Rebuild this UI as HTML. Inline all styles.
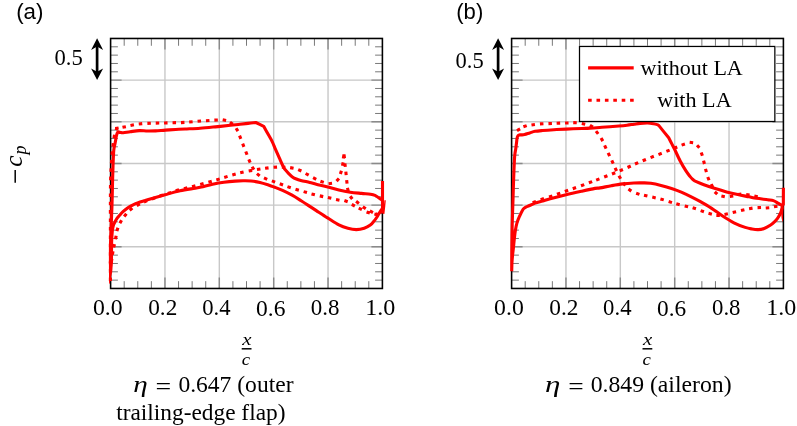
<!DOCTYPE html>
<html><head><meta charset="utf-8"><title>Pressure distributions</title>
<style>
html,body{margin:0;padding:0;background:#fff;}
body{width:797px;height:426px;overflow:hidden;}
svg{display:block;will-change:transform;}
text{fill:#000;}
.s{font-family:"Liberation Serif",serif;}
.i{font-family:"Liberation Serif",serif;font-style:italic;}
.fi{font-family:"Liberation Serif",serif;font-size:16.8px;font-style:italic;}
.h{font-family:"Liberation Sans",sans-serif;}
</style></head><body>
<svg width="797" height="426" viewBox="0 0 797 426">
<rect width="797" height="426" fill="#fff"/>
<!-- plot a -->
<path d="M164.96 38.47V288.47M219.32 38.47V288.47M273.68 38.47V288.47M328.04 38.47V288.47" stroke="#c8c8c8" stroke-width="1.4" fill="none"/>
<path d="M110.60 80.14H382.40M110.60 121.80H382.40M110.60 163.47H382.40M110.60 205.14H382.40M110.60 246.81H382.40" stroke="#c8c8c8" stroke-width="1.4" fill="none"/>
<path d="M124.19 38.47v7.3M124.19 288.47v-7.3M137.78 38.47v7.3M137.78 288.47v-7.3M151.37 38.47v7.3M151.37 288.47v-7.3M178.55 38.47v7.3M178.55 288.47v-7.3M192.14 38.47v7.3M192.14 288.47v-7.3M205.73 38.47v7.3M205.73 288.47v-7.3M232.91 38.47v7.3M232.91 288.47v-7.3M246.50 38.47v7.3M246.50 288.47v-7.3M260.09 38.47v7.3M260.09 288.47v-7.3M287.27 38.47v7.3M287.27 288.47v-7.3M300.86 38.47v7.3M300.86 288.47v-7.3M314.45 38.47v7.3M314.45 288.47v-7.3M341.63 38.47v7.3M341.63 288.47v-7.3M355.22 38.47v7.3M355.22 288.47v-7.3M368.81 38.47v7.3M368.81 288.47v-7.3M110.60 46.80h7.3M382.40 46.80h-7.3M110.60 55.14h7.3M382.40 55.14h-7.3M110.60 63.47h7.3M382.40 63.47h-7.3M110.60 71.80h7.3M382.40 71.80h-7.3M110.60 88.47h7.3M382.40 88.47h-7.3M110.60 96.80h7.3M382.40 96.80h-7.3M110.60 105.14h7.3M382.40 105.14h-7.3M110.60 113.47h7.3M382.40 113.47h-7.3M110.60 130.14h7.3M382.40 130.14h-7.3M110.60 138.47h7.3M382.40 138.47h-7.3M110.60 146.80h7.3M382.40 146.80h-7.3M110.60 155.14h7.3M382.40 155.14h-7.3M110.60 171.80h7.3M382.40 171.80h-7.3M110.60 180.14h7.3M382.40 180.14h-7.3M110.60 188.47h7.3M382.40 188.47h-7.3M110.60 196.80h7.3M382.40 196.80h-7.3M110.60 213.47h7.3M382.40 213.47h-7.3M110.60 221.80h7.3M382.40 221.80h-7.3M110.60 230.14h7.3M382.40 230.14h-7.3M110.60 238.47h7.3M382.40 238.47h-7.3M110.60 255.14h7.3M382.40 255.14h-7.3M110.60 263.47h7.3M382.40 263.47h-7.3M110.60 271.81h7.3M382.40 271.81h-7.3M110.60 280.14h7.3M382.40 280.14h-7.3" stroke="#6a6a6a" stroke-width="0.9" fill="none"/>
<path d="M164.96 38.47v11.0M164.96 288.47v-11.0M219.32 38.47v11.0M219.32 288.47v-11.0M273.68 38.47v11.0M273.68 288.47v-11.0M328.04 38.47v11.0M328.04 288.47v-11.0M110.60 80.14h11.0M382.40 80.14h-11.0M110.60 121.80h11.0M382.40 121.80h-11.0M110.60 163.47h11.0M382.40 163.47h-11.0M110.60 205.14h11.0M382.40 205.14h-11.0M110.60 246.81h11.0M382.40 246.81h-11.0" stroke="#8a8a8a" stroke-width="1.4" fill="none"/>
<rect x="110.60" y="38.47" width="271.80" height="250.00" fill="none" stroke="#000" stroke-width="1.58"/>
<g>
<path d="M110.40 281.00C110.40 272.50 110.40 243.50 110.40 230.00C110.40 216.50 110.37 208.33 110.40 200.00C110.43 191.67 110.45 185.83 110.60 180.00C110.75 174.17 110.98 170.00 111.30 165.00C111.62 160.00 112.05 154.50 112.50 150.00C112.95 145.50 113.55 141.00 114.00 138.00C114.45 135.00 114.72 133.63 115.20 132.00C115.68 130.37 116.62 128.83 116.90 128.20" stroke="#ff0000" stroke-width="3.1" fill="none" stroke-dasharray="3.5 4.9"/>
<path d="M115.17 128.48L118.63 127.92M122.48 127.35L125.92 126.65M130.48 125.44L133.92 124.76M138.76 123.99L142.24 123.61M147.35 123.37L150.85 123.23M155.75 123.14L159.25 123.06M164.05 122.94L167.55 122.86M172.55 122.74L176.05 122.66M180.95 122.58L184.45 122.42M189.16 122.05L192.64 121.75M197.56 121.24L201.04 120.96M205.95 120.70L209.45 120.50M214.35 120.15L217.85 120.05M222.68 119.75L226.12 120.45M230.01 122.14L232.79 124.26M236.07 128.22L237.93 131.18M239.54 135.68L240.86 138.92M242.66 143.57L243.94 146.83M245.76 151.47L247.04 154.73M248.80 159.40L250.20 162.60M252.06 166.73L253.94 169.67M256.95 173.64L259.65 175.86M264.00 177.89L267.20 179.31M271.86 180.90L275.14 182.10M279.76 183.80L283.04 185.00M287.44 186.63L290.76 187.77M295.52 189.29L298.88 190.31M303.62 191.62L306.98 192.58M311.50 193.97L314.90 194.83M319.79 195.88L323.21 196.62M327.89 197.57L331.31 198.33M336.03 199.57L339.47 200.23M344.40 200.58L347.70 201.72M351.76 204.46L354.84 206.14M358.72 208.14L361.88 209.66M366.55 211.92L369.85 213.08M374.40 214.07L377.80 214.93M111.35 262.23L111.85 258.77M112.41 254.63L112.99 251.17M113.75 247.52L114.45 244.08M115.45 239.22L116.15 235.78M116.88 231.12L117.92 227.78M119.86 223.28L121.54 220.22M124.19 216.45L126.41 213.75M129.63 210.29L132.37 208.11M136.76 205.53L139.84 203.87M143.98 201.97L147.22 200.63M151.86 199.00L155.14 197.80M159.75 196.07L163.05 194.93M167.84 193.44L171.16 192.36M175.72 190.79L179.08 189.81M183.90 188.63L187.30 187.77M192.00 186.63L195.40 185.77M200.21 184.51L203.59 183.59M208.42 182.19L211.78 181.21M216.33 179.91L219.67 178.89M224.23 177.41L227.57 176.39M232.32 174.97L235.68 174.03M240.20 172.80L243.60 172.00M248.68 171.02L252.12 170.38M256.97 169.57L260.43 169.03M265.06 168.32L268.54 167.88M273.55 167.29L277.05 167.11M281.85 167.12L285.35 167.28M290.13 167.62L293.57 168.28M298.19 169.67L301.41 171.03M305.62 173.51L308.68 175.19M313.09 177.72L316.21 179.28M320.43 181.31L323.77 182.39M328.56 183.78L332.04 183.32M336.55 181.07L338.95 178.53M340.37 174.02L341.43 170.68M342.41 165.76L343.19 162.34M344.91 163.36L345.29 166.84M345.82 171.66L346.18 175.14M346.65 180.11L347.05 183.59M347.38 187.81L348.32 191.19M350.20 196.25L352.30 199.05M356.11 201.33L358.89 203.47M362.85 206.73L365.75 208.67M369.85 210.89L372.95 212.51M375.72 213.75L378.88 215.25" stroke="#ff0000" stroke-width="3.1" fill="none"/>
<path d="M343.30 158.60L344.00 154.40L344.50 158.20" stroke="#ff0000" stroke-width="3.1" fill="none" stroke-linejoin="miter"/>
<path d="M110.45 263.00C110.46 260.00 110.38 251.33 110.50 245.00C110.62 238.67 110.95 231.67 111.20 225.00C111.45 218.33 111.77 212.50 112.00 205.00C112.23 197.50 112.42 186.92 112.60 180.00C112.78 173.08 112.90 168.50 113.10 163.50C113.30 158.50 113.47 153.37 113.80 150.00C114.13 146.63 114.67 145.63 115.10 143.30C115.53 140.97 116.03 137.72 116.40 136.00C116.77 134.28 116.98 133.70 117.30 133.00C117.62 132.30 118.13 132.00 118.30 131.80C118.67 131.92 119.68 132.35 120.50 132.50C121.32 132.65 121.58 132.83 123.20 132.70C124.82 132.57 127.52 132.05 130.20 131.70C132.88 131.35 136.43 130.72 139.30 130.60C142.17 130.48 144.70 130.96 147.40 131.00C150.10 131.04 152.48 131.00 155.50 130.85C158.52 130.70 162.15 130.32 165.50 130.10C168.85 129.88 172.35 129.68 175.60 129.50C178.85 129.32 180.92 129.22 185.00 129.00C189.08 128.78 195.05 128.56 200.10 128.20C205.15 127.84 210.25 127.33 215.30 126.85C220.35 126.37 226.28 125.72 230.40 125.30C234.52 124.88 237.07 124.62 240.00 124.30C242.93 123.98 245.37 123.70 248.00 123.40C250.63 123.10 254.50 122.65 255.80 122.50C257.12 123.13 262.38 125.67 263.70 126.30C264.47 127.68 266.88 132.05 268.30 134.60C269.72 137.15 271.02 139.18 272.20 141.60C273.38 144.02 274.20 146.33 275.40 149.10C276.60 151.87 278.30 155.72 279.40 158.20C280.50 160.68 281.13 162.20 282.00 164.00C282.87 165.80 284.17 168.17 284.60 169.00C285.25 169.72 287.20 171.98 288.50 173.30C289.80 174.62 291.08 175.95 292.40 176.90C293.72 177.85 295.00 178.42 296.40 179.00C297.80 179.58 298.58 179.82 300.80 180.40C303.02 180.98 307.12 181.87 309.70 182.50C312.28 183.13 313.28 183.45 316.30 184.20C319.32 184.95 324.03 186.03 327.80 187.00C331.57 187.97 335.17 189.13 338.90 190.00C342.63 190.87 346.43 191.63 350.20 192.20C353.97 192.77 358.12 193.07 361.50 193.40C364.88 193.73 368.25 193.88 370.50 194.20C372.75 194.52 373.68 194.73 375.00 195.30C376.32 195.87 377.37 196.88 378.40 197.60C379.43 198.32 380.53 199.10 381.20 199.60C381.87 200.10 382.20 200.43 382.40 200.60M111.45 263.00C111.47 260.00 111.49 249.17 111.55 245.00C111.61 240.83 111.67 240.33 111.80 238.00C111.92 235.67 112.07 233.00 112.30 231.00C112.53 229.00 112.78 227.45 113.20 226.00C113.62 224.55 114.17 223.57 114.80 222.30C115.43 221.03 116.15 219.62 117.00 218.40C117.85 217.18 118.90 216.12 119.90 215.00C120.90 213.88 121.67 212.92 123.00 211.70C124.33 210.48 126.22 208.85 127.90 207.70C129.58 206.55 131.37 205.65 133.10 204.80C134.83 203.95 136.45 203.28 138.30 202.60C140.15 201.92 142.22 201.32 144.20 200.70C146.18 200.08 146.73 199.88 150.20 198.90C153.67 197.92 160.02 196.15 165.00 194.80C169.98 193.45 175.07 191.90 180.10 190.80C185.13 189.70 191.67 188.83 195.20 188.20C198.73 187.57 198.40 187.65 201.30 187.00C204.20 186.35 208.83 185.08 212.60 184.30C216.37 183.52 220.13 182.83 223.90 182.30C227.67 181.77 232.00 181.35 235.20 181.10C238.40 180.85 240.47 180.82 243.10 180.80C245.73 180.78 248.18 180.72 251.00 181.00C253.82 181.28 257.00 181.80 260.00 182.50C263.00 183.20 266.67 184.45 269.00 185.20C271.33 185.95 271.65 186.10 274.00 187.00C276.35 187.90 280.08 189.23 283.10 190.60C286.12 191.97 289.10 193.52 292.10 195.20C295.10 196.88 298.08 198.80 301.10 200.70C304.12 202.60 307.67 204.95 310.20 206.60C312.73 208.25 313.40 208.72 316.30 210.60C319.20 212.48 323.83 215.52 327.60 217.90C331.37 220.28 335.52 223.17 338.90 224.90C342.28 226.63 345.00 227.52 347.90 228.30C350.80 229.08 353.58 229.60 356.30 229.60C359.02 229.60 361.87 229.05 364.20 228.30C366.53 227.55 368.68 226.27 370.30 225.10C371.92 223.93 372.78 222.65 373.90 221.30C375.02 219.95 376.12 218.35 377.00 217.00C377.88 215.65 378.52 214.33 379.20 213.20C379.88 212.07 380.57 210.93 381.10 210.20C381.63 209.47 382.18 209.03 382.40 208.80M382.50 181.00C382.50 186.42 382.50 208.08 382.50 213.50" stroke="#ff0000" stroke-width="3.1" fill="none" stroke-linejoin="round" stroke-linecap="butt"/>
<path d="M108.9 262 L113.0 262 L112.2 271.9 L110.85 278.4 L109.6 283.9 L109.1 283.5Z" fill="#ff0000"/>
<path d="M385.1 200.2 L384.6 206 L383.7 213.8" stroke="#ff0000" stroke-width="1.4" fill="none"/>
</g>
<!-- plot b -->
<path d="M565.96 38.47V288.47M620.32 38.47V288.47M674.68 38.47V288.47M729.04 38.47V288.47" stroke="#c8c8c8" stroke-width="1.4" fill="none"/>
<path d="M511.60 80.14H783.40M511.60 121.80H783.40M511.60 163.47H783.40M511.60 205.14H783.40M511.60 246.81H783.40" stroke="#c8c8c8" stroke-width="1.4" fill="none"/>
<path d="M525.19 38.47v7.3M525.19 288.47v-7.3M538.78 38.47v7.3M538.78 288.47v-7.3M552.37 38.47v7.3M552.37 288.47v-7.3M579.55 38.47v7.3M579.55 288.47v-7.3M593.14 38.47v7.3M593.14 288.47v-7.3M606.73 38.47v7.3M606.73 288.47v-7.3M633.91 38.47v7.3M633.91 288.47v-7.3M647.50 38.47v7.3M647.50 288.47v-7.3M661.09 38.47v7.3M661.09 288.47v-7.3M688.27 38.47v7.3M688.27 288.47v-7.3M701.86 38.47v7.3M701.86 288.47v-7.3M715.45 38.47v7.3M715.45 288.47v-7.3M742.63 38.47v7.3M742.63 288.47v-7.3M756.22 38.47v7.3M756.22 288.47v-7.3M769.81 38.47v7.3M769.81 288.47v-7.3M511.60 46.80h7.3M783.40 46.80h-7.3M511.60 55.14h7.3M783.40 55.14h-7.3M511.60 63.47h7.3M783.40 63.47h-7.3M511.60 71.80h7.3M783.40 71.80h-7.3M511.60 88.47h7.3M783.40 88.47h-7.3M511.60 96.80h7.3M783.40 96.80h-7.3M511.60 105.14h7.3M783.40 105.14h-7.3M511.60 113.47h7.3M783.40 113.47h-7.3M511.60 130.14h7.3M783.40 130.14h-7.3M511.60 138.47h7.3M783.40 138.47h-7.3M511.60 146.80h7.3M783.40 146.80h-7.3M511.60 155.14h7.3M783.40 155.14h-7.3M511.60 171.80h7.3M783.40 171.80h-7.3M511.60 180.14h7.3M783.40 180.14h-7.3M511.60 188.47h7.3M783.40 188.47h-7.3M511.60 196.80h7.3M783.40 196.80h-7.3M511.60 213.47h7.3M783.40 213.47h-7.3M511.60 221.80h7.3M783.40 221.80h-7.3M511.60 230.14h7.3M783.40 230.14h-7.3M511.60 238.47h7.3M783.40 238.47h-7.3M511.60 255.14h7.3M783.40 255.14h-7.3M511.60 263.47h7.3M783.40 263.47h-7.3M511.60 271.81h7.3M783.40 271.81h-7.3M511.60 280.14h7.3M783.40 280.14h-7.3" stroke="#6a6a6a" stroke-width="0.9" fill="none"/>
<path d="M565.96 38.47v11.0M565.96 288.47v-11.0M620.32 38.47v11.0M620.32 288.47v-11.0M674.68 38.47v11.0M674.68 288.47v-11.0M729.04 38.47v11.0M729.04 288.47v-11.0M511.60 80.14h11.0M783.40 80.14h-11.0M511.60 121.80h11.0M783.40 121.80h-11.0M511.60 163.47h11.0M783.40 163.47h-11.0M511.60 205.14h11.0M783.40 205.14h-11.0M511.60 246.81h11.0M783.40 246.81h-11.0" stroke="#8a8a8a" stroke-width="1.4" fill="none"/>
<rect x="511.60" y="38.47" width="271.80" height="250.00" fill="none" stroke="#000" stroke-width="1.58"/>
<g>
<path d="M517.01 130.53L520.09 128.87M523.39 126.77L526.71 125.63M531.47 124.95L534.93 124.45M539.95 123.91L543.45 123.69M548.45 123.66L551.95 123.54M556.65 123.26L560.15 123.14M565.05 123.05L568.55 122.95M573.25 122.62L576.75 122.78M581.79 123.43L585.21 124.17M589.93 125.26L592.87 127.14M596.02 131.13L598.18 133.87M601.08 138.08L602.82 141.12M604.61 145.41L606.09 148.59M608.15 152.92L609.65 156.08M611.76 160.41L613.24 163.59M615.09 167.87L616.61 171.03M618.93 175.73L620.67 178.77M623.22 182.82L625.38 185.58M628.47 189.09L631.33 191.11M636.15 193.22L639.45 194.38M643.99 195.31L647.41 196.09M652.29 197.11L655.71 197.89M660.42 198.92L663.78 199.88M668.63 201.58L671.97 202.62M676.31 203.85L679.69 204.75M684.70 205.99L688.10 206.81M692.62 207.69L695.98 208.71M700.65 210.62L703.95 211.78M708.51 213.34L711.89 214.26M716.35 215.47L719.85 215.53M724.49 214.46L727.91 213.74M732.70 212.50L736.10 211.70M740.99 210.59L744.41 209.81M749.07 208.67L752.53 208.13M757.55 207.65L761.05 207.55M765.75 208.02L769.25 207.78M773.97 206.79L777.43 206.21M532.65 202.60L535.95 201.40M540.64 199.66L543.96 198.54M549.04 197.05L552.36 195.95M556.95 194.28L560.25 193.12M564.85 191.48L568.15 190.32M572.75 188.68L576.05 187.52M580.96 185.80L584.24 184.60M588.86 182.81L592.14 181.59M596.17 180.12L599.43 178.88M604.17 176.98L607.43 175.72M611.97 174.05L615.23 172.75M619.69 170.89L622.91 169.51M627.55 167.47L630.75 166.03M635.00 164.00L638.20 162.60M642.68 160.81L645.92 159.49M650.57 157.59L653.83 156.31M658.47 154.59L661.73 153.31M666.38 151.41L669.62 150.09M674.03 148.25L677.27 146.95M681.59 145.14L684.91 144.06M689.66 142.28L693.14 142.72M697.03 145.20L699.37 147.80M701.20 152.46L702.40 155.74M703.57 160.60L704.43 164.00M705.49 168.81L706.41 172.19M707.75 176.97L709.05 180.23M711.18 184.15L712.82 187.25M714.74 191.79L717.26 194.21M721.39 196.04L724.81 196.76M729.81 196.47L733.29 196.03M737.86 194.47L741.34 194.13M746.17 194.47L749.63 194.93M754.29 196.12L757.71 196.88" stroke="#ff0000" stroke-width="3.1" fill="none"/>
<path d="M511.75 271.30C511.77 267.75 511.78 257.72 511.85 250.00C511.93 242.28 512.01 233.33 512.20 225.00C512.39 216.67 512.77 207.50 513.00 200.00C513.23 192.50 513.33 187.17 513.60 180.00C513.87 172.83 514.23 162.25 514.60 157.00C514.97 151.75 515.47 150.98 515.80 148.50C516.13 146.02 516.38 143.85 516.60 142.10C516.82 140.35 516.88 139.05 517.10 138.00C517.32 136.95 517.53 136.32 517.90 135.80C518.27 135.28 518.70 135.05 519.30 134.90C519.90 134.75 520.62 134.97 521.50 134.90C522.38 134.83 523.22 134.83 524.60 134.50C525.98 134.17 528.05 133.43 529.80 132.90C531.55 132.38 532.96 131.75 535.10 131.35C537.24 130.95 539.52 130.78 542.65 130.50C545.78 130.22 550.01 129.93 553.90 129.70C557.79 129.47 561.35 129.30 566.00 129.10C570.65 128.90 577.80 128.66 581.80 128.50C585.80 128.34 586.65 128.35 590.00 128.15C593.35 127.95 597.08 127.66 601.90 127.30C606.72 126.94 614.72 126.35 618.90 126.00C623.08 125.65 624.48 125.50 627.00 125.20C629.52 124.90 631.82 124.50 634.00 124.20C636.18 123.90 637.83 123.60 640.10 123.40C642.37 123.20 645.35 122.95 647.60 123.00C649.85 123.05 652.00 123.43 653.60 123.70C655.20 123.97 656.35 124.32 657.20 124.60C658.05 124.88 658.45 125.27 658.70 125.40C660.37 127.47 667.03 135.73 668.70 137.80C669.20 138.77 670.72 141.68 671.70 143.60C672.68 145.52 673.18 146.40 674.60 149.30C676.02 152.20 678.33 157.43 680.20 161.00C682.07 164.57 684.17 168.13 685.80 170.70C687.43 173.27 688.88 174.98 690.00 176.40C691.12 177.82 691.73 178.45 692.50 179.20C693.27 179.95 694.25 180.62 694.60 180.90C696.15 181.55 700.47 183.52 703.90 184.80C707.33 186.08 711.43 187.42 715.20 188.60C718.97 189.78 722.73 190.90 726.50 191.90C730.27 192.90 734.05 193.78 737.80 194.60C741.55 195.42 745.88 196.18 749.00 196.80C752.12 197.42 753.38 197.82 756.50 198.30C759.62 198.78 764.93 199.32 767.75 199.70C770.57 200.08 771.71 200.03 773.40 200.60C775.09 201.17 776.63 202.37 777.90 203.10C779.17 203.83 780.25 204.55 781.00 205.00C781.75 205.45 782.17 205.67 782.40 205.80M511.70 271.30C511.75 269.75 511.85 264.73 512.00 262.00C512.15 259.27 512.35 257.40 512.60 254.90C512.85 252.40 513.22 249.65 513.50 247.00C513.78 244.35 513.98 241.78 514.30 239.00C514.62 236.22 514.94 233.03 515.40 230.30C515.86 227.57 516.27 225.14 517.05 222.60C517.83 220.06 519.21 217.08 520.10 215.05C520.99 213.02 521.78 211.49 522.40 210.40C523.02 209.31 523.30 209.02 523.80 208.50C524.30 207.98 524.77 207.65 525.40 207.30C526.03 206.95 525.98 207.10 527.60 206.40C529.22 205.70 532.59 204.00 535.10 203.10C537.61 202.20 540.13 201.72 542.65 201.00C545.17 200.28 546.31 199.83 550.20 198.80C554.09 197.77 560.73 196.07 566.00 194.80C571.27 193.53 576.97 192.27 581.80 191.20C586.63 190.13 591.97 188.95 595.00 188.40C598.03 187.85 597.28 188.35 600.00 187.90C602.72 187.45 607.53 186.37 611.30 185.70C615.07 185.03 618.83 184.35 622.60 183.90C626.37 183.45 630.52 183.17 633.90 183.00C637.28 182.83 640.08 182.85 642.90 182.90C645.72 182.95 647.78 182.88 650.80 183.30C653.82 183.72 657.42 184.50 661.00 185.40C664.58 186.30 668.92 187.58 672.30 188.70C675.68 189.82 678.13 190.75 681.30 192.10C684.47 193.45 688.18 195.25 691.30 196.80C694.42 198.35 696.67 199.52 700.00 201.40C703.33 203.28 707.53 205.66 711.30 208.10C715.07 210.54 718.83 213.60 722.60 216.05C726.37 218.50 730.13 220.91 733.90 222.80C737.67 224.69 742.18 226.37 745.20 227.40C748.22 228.43 749.85 228.63 752.00 229.00C754.15 229.37 756.08 229.68 758.10 229.60C760.12 229.52 762.13 229.22 764.15 228.50C766.17 227.78 768.44 226.45 770.20 225.30C771.96 224.15 773.45 222.80 774.70 221.60C775.95 220.40 776.82 219.32 777.70 218.10C778.58 216.88 779.38 215.57 780.00 214.30C780.62 213.03 781.02 211.72 781.40 210.50C781.78 209.28 782.15 207.58 782.30 207.00M783.40 187.80C783.38 190.75 783.32 202.55 783.30 205.50" stroke="#ff0000" stroke-width="3.1" fill="none" stroke-linejoin="round" stroke-linecap="butt"/>
<path d="M781.5 204 L784.0 203.5 L783.3 211 L782.85 221.6 L782.3 221.6 L781.6 218 L781 212Z" fill="#ff0000"/>
</g>
<!-- legend -->
<rect x="579.5" y="46.45" width="195.35" height="75.05" fill="#fff" stroke="#000" stroke-width="1.25"/>
<path d="M588.1 67.9H633.7" stroke="#ff0000" stroke-width="3.1"/>
<path d="M588.1 100.2H633.9" stroke="#ff0000" stroke-width="3.1" stroke-dasharray="3.6 4.8"/>
<text x="640.58" y="74.5" textLength="102.20" lengthAdjust="spacingAndGlyphs" class="s" font-size="22.0">without LA</text>
<text x="657.24" y="106.5" textLength="74.40" lengthAdjust="spacingAndGlyphs" class="s" font-size="22.0">with LA</text>
<!-- arrows / scale -->
<path d="M97.1 43.3V75.0" stroke="#000" stroke-width="2.7" fill="none"/><path d="M97.1 38.3L103.1 49.9L97.1 46.5L91.1 49.9Z" fill="#000"/><path d="M97.1 80.0L103.1 68.4L97.1 71.8L91.1 68.4Z" fill="#000"/>
<path d="M498.1 43.3V75.0" stroke="#000" stroke-width="2.7" fill="none"/><path d="M498.1 38.3L504.1 49.9L498.1 46.5L492.1 49.9Z" fill="#000"/><path d="M498.1 80.0L504.1 68.4L498.1 71.8L492.1 68.4Z" fill="#000"/>
<text x="54.51" y="65.1" textLength="28.26" lengthAdjust="spacingAndGlyphs" class="s" font-size="22.3">0.5</text>
<text x="455.61" y="67.5" textLength="28.11" lengthAdjust="spacingAndGlyphs" class="s" font-size="22.3">0.5</text>
<!-- panel labels -->
<text x="16.16" y="18.7" textLength="27.32" lengthAdjust="spacingAndGlyphs" class="h" font-size="21.5">(a)</text>
<text x="456.26" y="18.7" textLength="27.00" lengthAdjust="spacingAndGlyphs" class="h" font-size="21.5">(b)</text>
<!-- tick labels -->
<text x="93.00" y="315.1" textLength="29.67" lengthAdjust="spacingAndGlyphs" class="s" font-size="22.3">0.0</text>
<text x="494.08" y="315.1" textLength="29.67" lengthAdjust="spacingAndGlyphs" class="s" font-size="22.3">0.0</text>
<text x="148.24" y="315.1" textLength="29.06" lengthAdjust="spacingAndGlyphs" class="s" font-size="22.3">0.2</text>
<text x="549.29" y="315.1" textLength="29.17" lengthAdjust="spacingAndGlyphs" class="s" font-size="22.3">0.2</text>
<text x="202.16" y="315.1" textLength="28.35" lengthAdjust="spacingAndGlyphs" class="s" font-size="22.3">0.4</text>
<text x="603.14" y="315.1" textLength="28.36" lengthAdjust="spacingAndGlyphs" class="s" font-size="22.3">0.4</text>
<text x="256.00" y="316.2" textLength="29.39" lengthAdjust="spacingAndGlyphs" class="s" font-size="22.3">0.6</text>
<text x="657.14" y="316.2" textLength="29.16" lengthAdjust="spacingAndGlyphs" class="s" font-size="22.3">0.6</text>
<text x="310.84" y="315.1" textLength="28.69" lengthAdjust="spacingAndGlyphs" class="s" font-size="22.3">0.8</text>
<text x="712.04" y="315.1" textLength="28.47" lengthAdjust="spacingAndGlyphs" class="s" font-size="22.3">0.8</text>
<text x="365.28" y="315.1" textLength="30.11" lengthAdjust="spacingAndGlyphs" class="s" font-size="22.3">1.0</text>
<text x="766.36" y="315.1" textLength="29.99" lengthAdjust="spacingAndGlyphs" class="s" font-size="22.3">1.0</text>
<text x="246.90" y="344.5" text-anchor="middle" textLength="9.2" lengthAdjust="spacingAndGlyphs" class="fi">x</text><path d="M241.70 348.8H251.50" stroke="#000" stroke-width="1.5"/><text x="245.90" y="364.9" text-anchor="middle" textLength="8.4" lengthAdjust="spacingAndGlyphs" class="fi">c</text>
<text x="647.70" y="344.5" text-anchor="middle" textLength="9.2" lengthAdjust="spacingAndGlyphs" class="fi">x</text><path d="M642.50 348.8H652.30" stroke="#000" stroke-width="1.5"/><text x="646.70" y="364.9" text-anchor="middle" textLength="8.4" lengthAdjust="spacingAndGlyphs" class="fi">c</text>
<!-- ylabel -->
<g transform="translate(22.3 183) rotate(-90)">
<path d="M0.2 -7.1H13.0" stroke="#000" stroke-width="1.5"/>
<text x="16.2" y="0" class="i" font-size="25.5">c</text>
<text x="28.6" y="3.9" class="i" font-size="18">p</text>
</g>
<!-- captions -->
<text x="133.18" y="391.7" textLength="14.50" lengthAdjust="spacingAndGlyphs" class="i" font-size="23.0">η</text>
<text x="155.57" y="394.0" textLength="15.68" lengthAdjust="spacingAndGlyphs" class="s" font-size="23.0">=</text>
<text x="178.42" y="391.7" textLength="115.09" lengthAdjust="spacingAndGlyphs" class="s" font-size="23.0">0.647 (outer</text>
<text x="116.18" y="420.4" textLength="169.29" lengthAdjust="spacingAndGlyphs" class="s" font-size="23.0">trailing-edge flap)</text>
<text x="545.08" y="391.8" textLength="15.42" lengthAdjust="spacingAndGlyphs" class="i" font-size="23.0">η</text>
<text x="568.34" y="394.1" textLength="15.47" lengthAdjust="spacingAndGlyphs" class="s" font-size="23.0">=</text>
<text x="590.67" y="391.8" textLength="140.91" lengthAdjust="spacingAndGlyphs" class="s" font-size="23.0">0.849 (aileron)</text>
</svg>
</body></html>
